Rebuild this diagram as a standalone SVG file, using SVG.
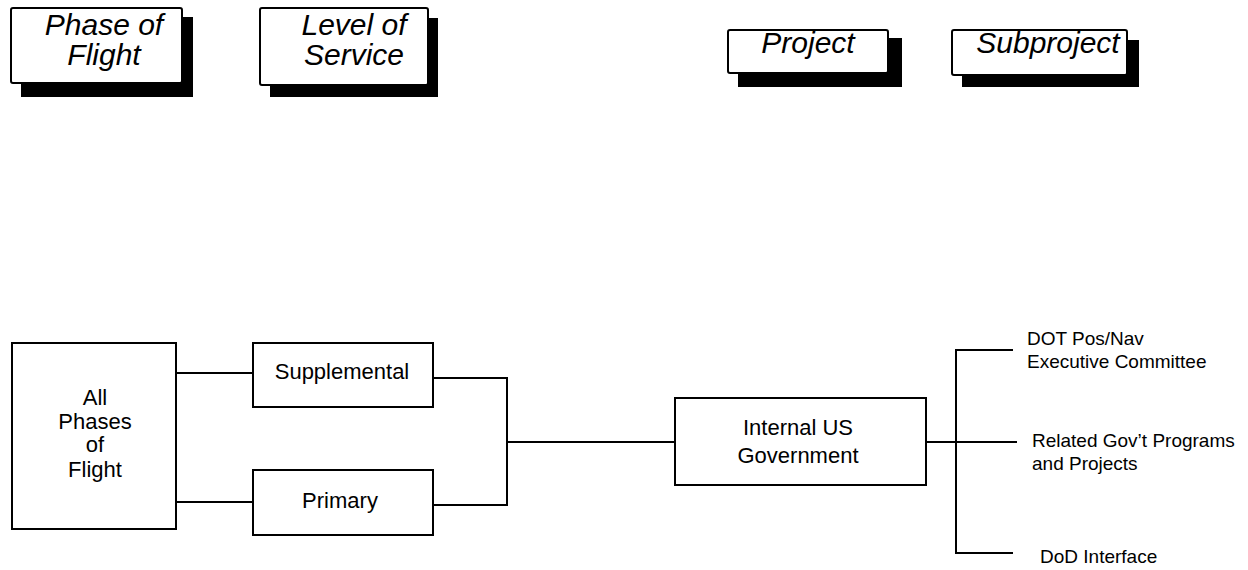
<svg xmlns="http://www.w3.org/2000/svg" width="1248" height="570" viewBox="0 0 1248 570">
  <style>
    .shadow { fill: #000; }
    .hdr { fill: #fff; stroke: #000; stroke-width: 2; }
    .box { fill: #fff; stroke: #000; stroke-width: 2; }
    .hdr-text { font-family: "Liberation Sans", Arial, sans-serif; font-style: italic; font-size: 30px; fill: #000; text-anchor: middle; }
    .node-text { font-family: "Liberation Sans", Arial, sans-serif; font-size: 22px; fill: #000; text-anchor: middle; }
    .leaf-text { font-family: "Liberation Sans", Arial, sans-serif; font-size: 19px; fill: #000; }
    .wire { fill: none; stroke: #000; stroke-width: 2; }
  </style>
  <rect width="1248" height="570" fill="#fff"/>

  <!-- Column headings with drop shadows -->
  <g id="hdr-phase">
    <rect class="shadow" x="21" y="17" width="172" height="80"/>
    <rect class="hdr" x="11" y="8" width="171" height="75" rx="2"/>
    <text class="hdr-text" x="104" y="35">Phase of</text>
    <text class="hdr-text" x="104" y="65">Flight</text>
  </g>
  <g id="hdr-level">
    <rect class="shadow" x="270" y="18" width="168" height="79"/>
    <rect class="hdr" x="260" y="8" width="168" height="77" rx="2"/>
    <text class="hdr-text" x="354" y="35">Level of</text>
    <text class="hdr-text" x="354" y="65">Service</text>
  </g>
  <g id="hdr-project">
    <rect class="shadow" x="738" y="38" width="164" height="49"/>
    <rect class="hdr" x="728" y="30" width="160" height="43" rx="2"/>
    <text class="hdr-text" x="808" y="53">Project</text>
  </g>
  <g id="hdr-subproject">
    <rect class="shadow" x="962" y="40" width="177" height="47"/>
    <rect class="hdr" x="952" y="30" width="175" height="45" rx="2"/>
    <text class="hdr-text" x="1048" y="53">Subproject</text>
  </g>

  <!-- Connectors -->
  <g id="connectors">
    <path class="wire" d="M176 373 H253"/>
    <path class="wire" d="M176 502 H253"/>
    <path class="wire" d="M433 378 H507 V505 H433"/>
    <path class="wire" d="M507 442 H675"/>
    <path class="wire" d="M926 442 H1017"/>
    <path class="wire" d="M1013 350 H956 V553 H1013"/>
  </g>

  <!-- Nodes -->
  <g id="node-all-phases">
    <rect class="box" x="12" y="343" width="164" height="186"/>
    <text class="node-text" x="95" y="405">All</text>
    <text class="node-text" x="95" y="429">Phases</text>
    <text class="node-text" x="95" y="452">of</text>
    <text class="node-text" x="95" y="477">Flight</text>
  </g>
  <g id="node-supplemental">
    <rect class="box" x="253" y="343" width="180" height="64"/>
    <text class="node-text" x="342" y="379">Supplemental</text>
  </g>
  <g id="node-primary">
    <rect class="box" x="253" y="470" width="180" height="65"/>
    <text class="node-text" x="340" y="508">Primary</text>
  </g>
  <g id="node-internal-us-gov">
    <rect class="box" x="675" y="398" width="251" height="87"/>
    <text class="node-text" x="798" y="435">Internal US</text>
    <text class="node-text" x="798" y="463">Government</text>
  </g>
  <g id="leaf-dot">
    <text class="leaf-text" x="1027" y="345">DOT Pos/Nav</text>
    <text class="leaf-text" x="1027" y="368">Executive Committee</text>
  </g>
  <g id="leaf-related">
    <text class="leaf-text" x="1032" y="447">Related Gov’t Programs</text>
    <text class="leaf-text" x="1032" y="470">and Projects</text>
  </g>
  <g id="leaf-dod">
    <text class="leaf-text" x="1040" y="563">DoD Interface</text>
  </g>
</svg>
